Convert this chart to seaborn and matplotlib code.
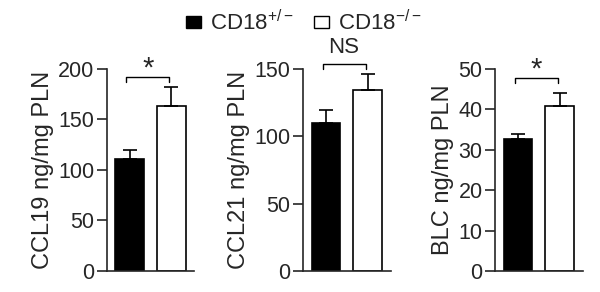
import matplotlib
matplotlib.use("Agg")
import matplotlib.pyplot as plt
from matplotlib.patches import Patch
import pandas as pd
import seaborn as sns

# Data (mean and SEM per genotype)
groups = ["CD18+/-", "CD18-/-"]
ccl19_mean = [111, 163]
ccl19_sem = [9, 19]
ccl21_mean = [110, 134]
ccl21_sem = [9.5, 12]
blc_mean = [32.6, 40.9]
blc_sem = [1.3, 3.1]

ylabels = ["CCL19 ng/mg PLN", "CCL21 ng/mg PLN", "BLC ng/mg PLN"]
yticks = [[0, 50, 100, 150, 200], [0, 50, 100, 150], [0, 10, 20, 30, 40, 50]]
sig_labels = ["*", "NS", "*"]
bracket_y = [192, 154, 47.8]

sns.set_style("ticks")
plt.rcParams["font.family"] = ["Liberation Sans", "DejaVu Sans"]
plt.rcParams["mathtext.default"] = "regular"

fig = plt.figure(figsize=(6, 2.92), dpi=100)
lefts = [0.178, 0.505, 0.825]
axes = [fig.add_axes([l, 0.072, 0.146, 0.692]) for l in lefts]

panels = [(ccl19_mean, ccl19_sem), (ccl21_mean, ccl21_sem), (blc_mean, blc_sem)]
for i, (ax, (means, sems)) in enumerate(zip(axes, panels)):
    df = pd.DataFrame({"group": groups, "value": means})
    sns.barplot(data=df, x="group", y="value", ax=ax, width=0.69,
                palette=["black", "white"], hue="group", legend=False,
                edgecolor="black", linewidth=1.2, errorbar=None)
    ax.errorbar([0, 1], means, yerr=[[0, 0], sems], fmt="none",
                ecolor="black", elinewidth=1.2, capsize=5, capthick=1.2)
    top = yticks[i][-1]
    ax.set_ylim(0, top)
    ax.set_xlim(-0.55, 1.55)
    ax.set_yticks(yticks[i])
    ax.set_xticks([])
    ax.set_xlabel("")
    ax.set_ylabel(ylabels[i], fontsize=17, labelpad=3)
    ax.tick_params(axis="y", labelsize=15.5, length=7, width=1.2, pad=2)
    for s in ["left", "bottom"]:
        ax.spines[s].set_linewidth(1.2)
    sns.despine(ax=ax)

    # significance bracket
    by = bracket_y[i]
    arm = top * 0.025
    ax.plot([-0.08, -0.08, 0.95, 0.95], [by - arm, by, by, by - arm],
            color="black", lw=1.0, clip_on=False)
    if sig_labels[i] == "NS":
        ax.text(0.435, by + top * 0.05, "NS", ha="center", va="baseline",
                fontsize=16, clip_on=False)
    else:
        ax.text(0.435, by, "*", ha="center", va="baseline",
                fontsize=21, clip_on=False)

handles = [Patch(facecolor="black", edgecolor="black"),
           Patch(facecolor="white", edgecolor="black")]
fig.legend(handles, ["CD18$^{+/-}$", "CD18$^{-/-}$"], loc="upper center",
           bbox_to_anchor=(0.507, 1.035), ncol=2, frameon=False, fontsize=16,
           handlelength=0.68, handleheight=0.45, handletextpad=0.4,
           columnspacing=0.9)

fig.savefig("out.png", dpi=100)
